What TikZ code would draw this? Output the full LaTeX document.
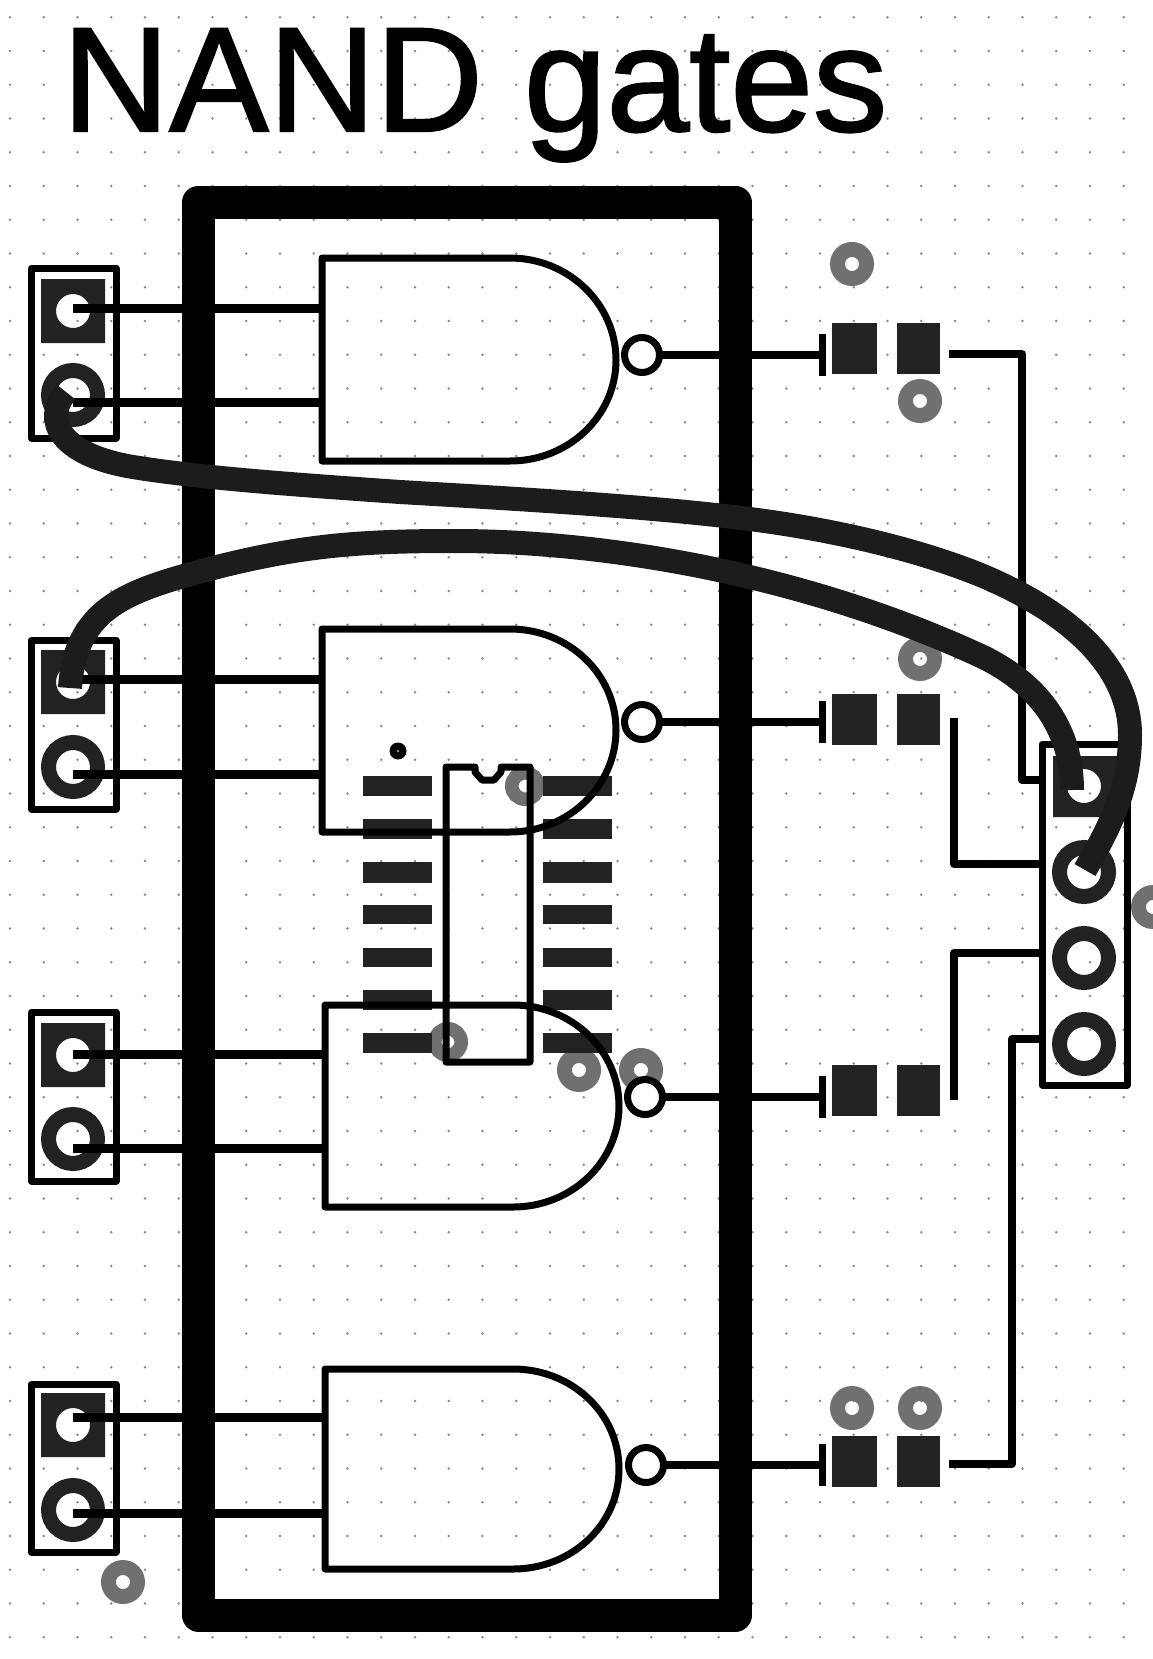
\documentclass[tikz,border=0pt]{standalone}
\usepackage{fontspec}
\setmainfont{Liberation Sans}
\newfontfamily\titlefont[FakeBold=1.5]{Liberation Sans}
\definecolor{padc}{HTML}{222222}
\definecolor{wirec}{HTML}{1C1C1C}
\definecolor{viac}{HTML}{707070}
\definecolor{dotc}{HTML}{8A8A8A}
\tikzset{
  trace/.style={line width=8pt,line join=round,black},
  outline/.style={line width=7pt,line join=round,black},
  thickwire/.style={line width=24pt,wirec},
}
\newcommand{\nandgate}[4]{% x, top, bottom, mid
  \draw[outline] (#1,#2) -- ({#1+188},#2) .. controls ({#1+246.5},#2) and ({#1+294},{#4-56}) .. ({#1+294},#4)
    .. controls ({#1+294},{#4+56}) and ({#1+246.5},#3) .. ({#1+188},#3) -- (#1,#3) -- cycle;}
\newcommand{\bubble}[2]{\draw[outline,fill=white] (#1,#2) circle (17.5);}
\newcommand{\annulus}[2]{\draw[padc,line width=15pt] (#1,#2) circle (24.5);}
\newcommand{\squarepad}[2]{\fill[padc,even odd rule] ({#1-32},{#2-32}) rectangle ({#1+32},{#2+32}) (#1,#2) circle (17);}
\newcommand{\via}[3]{\draw[viac,line width={(#3)*0.68pt}] (#1,#2) circle ({(#3)*0.66});}
\newcommand{\smd}[1]{% y centre
  \fill[padc] (832,{#1-25}) rectangle (877,{#1+26});
  \fill[padc] (897,{#1-25}) rectangle (940,{#1+26});}
\begin{document}
\begin{tikzpicture}[x=1pt,y=-1pt]
\useasboundingbox (0,0) rectangle (1152,1659);
\fill[white] (0,0) rectangle (1152,1659);
% grid
\foreach \i in {0,...,33} \foreach \j in {0,...,48}
  \fill[dotc] ({10+33.75*\i},{17.25+33.75*\j}) circle (1.3);
% vias
\via{852}{264}{22}
\via{920}{401}{22}
\via{920}{659}{22}
\via{852}{1408}{22}
\via{920}{1408}{22}
\via{123}{1582}{22}
\via{1153}{907}{22}
\via{525}{786}{20}
\via{448}{1042}{20}
\via{579}{1070}{22}
\via{641}{1070}{22}
\fill[black] (398,751) circle (8.5);
\fill[dotc] (398,751) circle (1.5);
% SOIC pads
\foreach \a/\b in {776/796,819/839,862/883,905/924,948/967,990/1010,1033/1053}{
  \fill[padc] (363,\a) rectangle (432,\b);
  \fill[padc] (543,\a) rectangle (612,\b);
}
% headers: pads
\squarepad{73}{311}\annulus{73}{395}
\squarepad{73}{682}\annulus{73}{767}
\squarepad{73}{1055}\annulus{73}{1139}
\squarepad{73}{1425}\annulus{73}{1510}
\fill[padc,even odd rule] (1053,756) rectangle (1117,817) (1084,786) circle (17);
\annulus{1084}{872}\annulus{1084}{958}\annulus{1084}{1044}
% SMD pads
\smd{348}
\smd{719}
\smd{1090}
\smd{1461}
% header outlines
\draw[outline] (31.5,268) rectangle (116,438);
\draw[outline] (31.5,640) rectangle (116,809);
\draw[outline] (31.5,1012) rectangle (116,1181);
\draw[outline] (31.5,1384) rectangle (116,1552);
\draw[outline] (1042,744) rectangle (1127,1085);
% big box
\draw[line width=33pt,line join=round,black] (198.5,202) rectangle (735,1615);
% IC outline
\draw[outline] (446,767) -- (475,767) -- (475,772) -- (482,780) -- (494,780) -- (501,772) -- (501,767) -- (530,767) -- (530,1062) -- (446,1062) -- cycle;
% gates
\nandgate{322}{258}{461}{360}
\nandgate{322}{629}{832}{730}
\nandgate{325}{1005}{1207}{1106}
\nandgate{325}{1369}{1569}{1469}
% inputs
\foreach \y/\g in {308/322,402/322,679/322,774/322,1054/325,1148/325,1417/325,1513/325}
  \draw[line width=9pt,black] (73,\y) -- (\g,\y);
% bubbles and outputs
\foreach \x/\y in {642/355,642/722,645/1097,646/1465}{
  \draw[trace] ({\x+19},\y) -- (822,\y);
  \bubble{\x}{\y}
  \draw[outline] (822,{\y-21}) -- (822,{\y+21});
}
% right-hand traces
\draw[trace] (949,354) -- (1022,354) -- (1022,780) -- (1042,780);
\draw[trace] (954,718) -- (954,864) -- (1042,864);
\draw[trace] (1042,953) -- (954,953) -- (954,1100);
\draw[trace] (1042,1039) -- (1012,1039) -- (1012,1464) -- (949,1464);
% wires
\coordinate (h1b) at (66,392);
\coordinate (h2a) at (70,688);
\coordinate (r1) at (1072,790);
\coordinate (r2) at (1085,870);
\draw[thickwire] (h2a) .. controls (75,610) and (125,592) .. (198,572)
  .. controls (298,545) and (360,541) .. (455,541)
  .. controls (600,541) and (800,572) .. (983,657)
  .. controls (1040,685) and (1072,730) .. (r1);
\draw[thickwire] (h1b) .. controls (42,420) and (60,455) .. (133,467)
  .. controls (200,478) and (300,485) .. (400,492)
  .. controls (520,499) and (640,506) .. (733,517)
  .. controls (830,528) and (920,550) .. (983,576)
  .. controls (1075,615) and (1130,670) .. (1130,735)
  .. controls (1130,790) and (1108,830) .. (r2);
% title
\node[anchor=base west,inner sep=0pt,font=\titlefont\fontsize{148.5}{148.5}\selectfont] (title) at (62,131) {NAND gates};
\end{tikzpicture}
\end{document}
